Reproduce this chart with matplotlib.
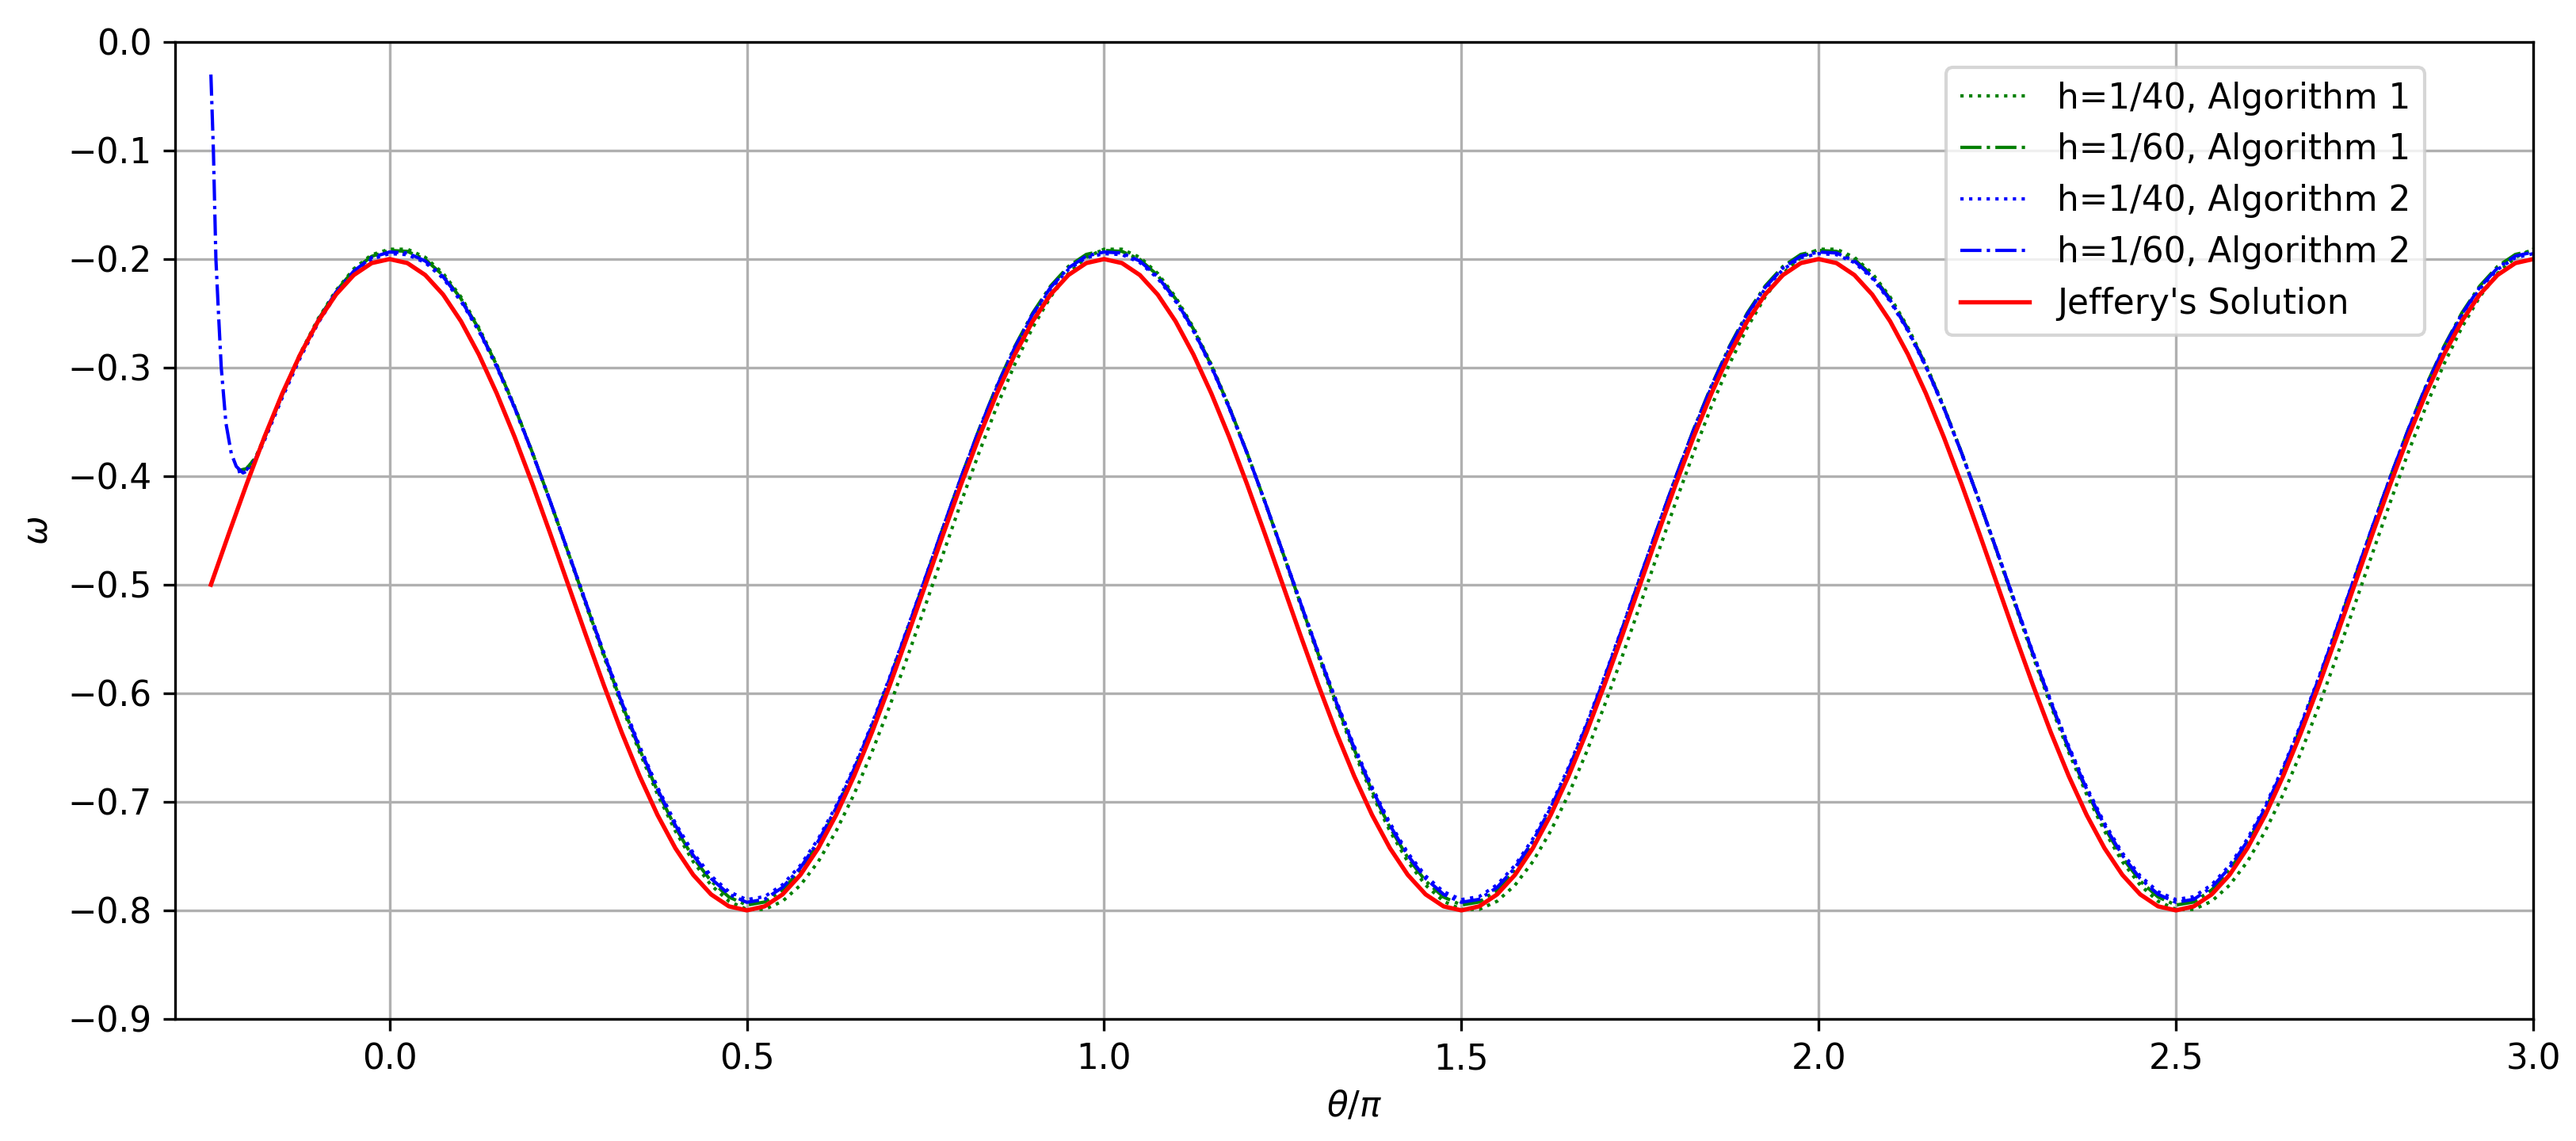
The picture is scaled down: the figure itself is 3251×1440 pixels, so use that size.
import numpy as np
import matplotlib
matplotlib.use("Agg")
import matplotlib.pyplot as plt

plt.rcParams['font.family'] = ['DejaVu Sans']
plt.rcParams['font.size'] = 10.5

# ---------------- data ----------------
x_jeffery = np.round(np.arange(-0.25, 3.0001, 0.025), 4)
w_jeffery = [
    -0.5000, -0.4531, -0.4073, -0.3638, -0.3237, -0.2879, -0.2573, -0.2327, -0.2147, -0.2037,
    -0.2000, -0.2037, -0.2147, -0.2327, -0.2573, -0.2879, -0.3237, -0.3638, -0.4073, -0.4531,
    -0.5000, -0.5469, -0.5927, -0.6362, -0.6763, -0.7121, -0.7427, -0.7673, -0.7853, -0.7963,
    -0.8000, -0.7963, -0.7853, -0.7673, -0.7427, -0.7121, -0.6763, -0.6362, -0.5927, -0.5469,
    -0.5000, -0.4531, -0.4073, -0.3638, -0.3237, -0.2879, -0.2573, -0.2327, -0.2147, -0.2037,
    -0.2000, -0.2037, -0.2147, -0.2327, -0.2573, -0.2879, -0.3237, -0.3638, -0.4073, -0.4531,
    -0.5000, -0.5469, -0.5927, -0.6362, -0.6763, -0.7121, -0.7427, -0.7673, -0.7853, -0.7963,
    -0.8000, -0.7963, -0.7853, -0.7673, -0.7427, -0.7121, -0.6763, -0.6362, -0.5927, -0.5469,
    -0.5000, -0.4531, -0.4073, -0.3638, -0.3237, -0.2879, -0.2573, -0.2327, -0.2147, -0.2037,
    -0.2000, -0.2037, -0.2147, -0.2327, -0.2573, -0.2879, -0.3237, -0.3638, -0.4073, -0.4531,
    -0.5000, -0.5469, -0.5927, -0.6362, -0.6763, -0.7121, -0.7427, -0.7673, -0.7853, -0.7963,
    -0.8000, -0.7963, -0.7853, -0.7673, -0.7427, -0.7121, -0.6763, -0.6362, -0.5927, -0.5469,
    -0.5000, -0.4531, -0.4073, -0.3638, -0.3237, -0.2879, -0.2573, -0.2327, -0.2147, -0.2037,
    -0.2000,
]

# common sampling grid for the numerical solutions
x_num = np.round(np.arange(-0.175, 3.0001, 0.025), 4)

# early points of the numerical solutions
x_start = [-0.2125, -0.2000, -0.1875]
w_start_g1 = [-0.395, -0.393, -0.383]
w_start_g2 = [-0.395, -0.393, -0.383]
w_start_b1 = [-0.396, -0.394, -0.385]
x_start_b2 = [-0.2500, -0.2465, -0.2430, -0.2390, -0.2355, -0.2290, -0.2215, -0.2145,
              -0.2050, -0.1950, -0.1875]
w_start_b2 = [-0.030, -0.100, -0.200, -0.255, -0.300, -0.351, -0.379, -0.391,
              -0.397, -0.394, -0.384]

w_g1 = [  # h=1/40, Algorithm 1
    -0.3640, -0.3240, -0.2870, -0.2550, -0.2290, -0.2090, -0.1960,
    -0.1909, -0.1909, -0.1984, -0.2132, -0.2349, -0.2631, -0.2969, -0.3356, -0.3783, -0.4238,
    -0.4711, -0.5189, -0.5662, -0.6117, -0.6544, -0.6931, -0.7269, -0.7551, -0.7768, -0.7916,
    -0.7991, -0.7991, -0.7916, -0.7768, -0.7551, -0.7269, -0.6931, -0.6544, -0.6117, -0.5662,
    -0.5189, -0.4711, -0.4238, -0.3783, -0.3356, -0.2969, -0.2631, -0.2349, -0.2132, -0.1984,
    -0.1909, -0.1909, -0.1984, -0.2132, -0.2349, -0.2631, -0.2969, -0.3356, -0.3783, -0.4238,
    -0.4711, -0.5189, -0.5662, -0.6117, -0.6544, -0.6931, -0.7269, -0.7551, -0.7768, -0.7916,
    -0.7991, -0.7991, -0.7916, -0.7768, -0.7551, -0.7269, -0.6931, -0.6544, -0.6117, -0.5662,
    -0.5189, -0.4711, -0.4238, -0.3783, -0.3356, -0.2969, -0.2631, -0.2349, -0.2132, -0.1984,
    -0.1909, -0.1909, -0.1984, -0.2132, -0.2349, -0.2631, -0.2969, -0.3356, -0.3783, -0.4238,
    -0.4711, -0.5189, -0.5662, -0.6117, -0.6544, -0.6931, -0.7269, -0.7551, -0.7768, -0.7916,
    -0.7991, -0.7991, -0.7916, -0.7768, -0.7551, -0.7269, -0.6931, -0.6544, -0.6117, -0.5662,
    -0.5189, -0.4711, -0.4238, -0.3783, -0.3356, -0.2969, -0.2631, -0.2349, -0.2132, -0.1984,
    -0.1909,
]

w_g2 = [  # h=1/60, Algorithm 1
    -0.3645, -0.3245, -0.2880, -0.2560, -0.2300, -0.2100, -0.1975,
    -0.1920, -0.1929, -0.2003, -0.2150, -0.2365, -0.2644, -0.2979, -0.3362, -0.3784, -0.4235,
    -0.4703, -0.5177, -0.5645, -0.6096, -0.6518, -0.6901, -0.7236, -0.7515, -0.7730, -0.7877,
    -0.7951, -0.7923, -0.7812, -0.7631, -0.7383, -0.7076, -0.6715, -0.6311, -0.5873, -0.5412,
    -0.4940, -0.4468, -0.4007, -0.3569, -0.3165, -0.2805, -0.2497, -0.2249, -0.2068, -0.1957,
    -0.1920, -0.1929, -0.2003, -0.2150, -0.2365, -0.2644, -0.2979, -0.3362, -0.3784, -0.4235,
    -0.4703, -0.5177, -0.5645, -0.6096, -0.6518, -0.6901, -0.7236, -0.7515, -0.7730, -0.7877,
    -0.7951, -0.7923, -0.7812, -0.7631, -0.7383, -0.7076, -0.6715, -0.6311, -0.5873, -0.5412,
    -0.4940, -0.4468, -0.4007, -0.3569, -0.3165, -0.2805, -0.2497, -0.2249, -0.2068, -0.1957,
    -0.1920, -0.1929, -0.2003, -0.2150, -0.2365, -0.2644, -0.2979, -0.3362, -0.3784, -0.4235,
    -0.4703, -0.5177, -0.5645, -0.6096, -0.6518, -0.6901, -0.7236, -0.7515, -0.7730, -0.7877,
    -0.7951, -0.7923, -0.7812, -0.7631, -0.7383, -0.7076, -0.6715, -0.6311, -0.5873, -0.5412,
    -0.4940, -0.4468, -0.4007, -0.3569, -0.3165, -0.2805, -0.2497, -0.2249, -0.2068, -0.1957,
    -0.1920,
]

w_b1 = [  # h=1/40, Algorithm 2
    -0.3670, -0.3275, -0.2910, -0.2590, -0.2330, -0.2130, -0.2000,
    -0.1950, -0.1959, -0.2032, -0.2177, -0.2389, -0.2664, -0.2995, -0.3373, -0.3790, -0.4234,
    -0.4696, -0.5164, -0.5626, -0.6070, -0.6487, -0.6865, -0.7196, -0.7471, -0.7683, -0.7828,
    -0.7901, -0.7873, -0.7764, -0.7585, -0.7341, -0.7037, -0.6682, -0.6283, -0.5851, -0.5396,
    -0.4930, -0.4464, -0.4009, -0.3577, -0.3178, -0.2823, -0.2519, -0.2275, -0.2096, -0.1987,
    -0.1950, -0.1959, -0.2032, -0.2177, -0.2389, -0.2664, -0.2995, -0.3373, -0.3790, -0.4234,
    -0.4696, -0.5164, -0.5626, -0.6070, -0.6487, -0.6865, -0.7196, -0.7471, -0.7683, -0.7828,
    -0.7901, -0.7873, -0.7764, -0.7585, -0.7341, -0.7037, -0.6682, -0.6283, -0.5851, -0.5396,
    -0.4930, -0.4464, -0.4009, -0.3577, -0.3178, -0.2823, -0.2519, -0.2275, -0.2096, -0.1987,
    -0.1950, -0.1959, -0.2032, -0.2177, -0.2389, -0.2664, -0.2995, -0.3373, -0.3790, -0.4234,
    -0.4696, -0.5164, -0.5626, -0.6070, -0.6487, -0.6865, -0.7196, -0.7471, -0.7683, -0.7828,
    -0.7901, -0.7873, -0.7764, -0.7585, -0.7341, -0.7037, -0.6682, -0.6283, -0.5851, -0.5396,
    -0.4930, -0.4464, -0.4009, -0.3577, -0.3178, -0.2823, -0.2519, -0.2275, -0.2096, -0.1987,
    -0.1950,
]

w_b2 = [  # h=1/60, Algorithm 2
    -0.3650, -0.3250, -0.2885, -0.2565, -0.2305, -0.2110, -0.1985,
    -0.1935, -0.1944, -0.2018, -0.2163, -0.2377, -0.2654, -0.2987, -0.3368, -0.3787, -0.4235,
    -0.4700, -0.5170, -0.5635, -0.6083, -0.6503, -0.6883, -0.7216, -0.7493, -0.7707, -0.7852,
    -0.7926, -0.7898, -0.7788, -0.7608, -0.7362, -0.7056, -0.6698, -0.6297, -0.5862, -0.5404,
    -0.4935, -0.4466, -0.4008, -0.3573, -0.3172, -0.2814, -0.2508, -0.2262, -0.2082, -0.1972,
    -0.1935, -0.1944, -0.2018, -0.2163, -0.2377, -0.2654, -0.2987, -0.3368, -0.3787, -0.4235,
    -0.4700, -0.5170, -0.5635, -0.6083, -0.6503, -0.6883, -0.7216, -0.7493, -0.7707, -0.7852,
    -0.7926, -0.7898, -0.7788, -0.7608, -0.7362, -0.7056, -0.6698, -0.6297, -0.5862, -0.5404,
    -0.4935, -0.4466, -0.4008, -0.3573, -0.3172, -0.2814, -0.2508, -0.2262, -0.2082, -0.1972,
    -0.1935, -0.1944, -0.2018, -0.2163, -0.2377, -0.2654, -0.2987, -0.3368, -0.3787, -0.4235,
    -0.4700, -0.5170, -0.5635, -0.6083, -0.6503, -0.6883, -0.7216, -0.7493, -0.7707, -0.7852,
    -0.7926, -0.7898, -0.7788, -0.7608, -0.7362, -0.7056, -0.6698, -0.6297, -0.5862, -0.5404,
    -0.4935, -0.4466, -0.4008, -0.3573, -0.3172, -0.2814, -0.2508, -0.2262, -0.2082, -0.1972,
    -0.1935,
]

labels = ["h=1/40, Algorithm 1", "h=1/60, Algorithm 1",
          "h=1/40, Algorithm 2", "h=1/60, Algorithm 2", "Jeffery's Solution"]

# ---------------- plot ----------------
fig = plt.figure(figsize=(3251 / 300, 1440 / 300), dpi=300)
ax = fig.add_axes([0.068, 0.107, 0.9154, 0.8562])

ax.plot(np.concatenate([x_start, x_num]), np.concatenate([w_start_g1, w_g1]),
        color='g', linestyle=':', lw=1.0, label=labels[0])
ax.plot(np.concatenate([x_start, x_num]), np.concatenate([w_start_g2, w_g2]),
        color='g', linestyle='-.', lw=1.0, label=labels[1])
ax.plot(np.concatenate([x_start, x_num]), np.concatenate([w_start_b1, w_b1]),
        color='b', linestyle=':', lw=1.0, label=labels[2])
ax.plot(np.concatenate([x_start_b2, x_num]), np.concatenate([w_start_b2, w_b2]),
        color='b', linestyle='-.', lw=1.0, label=labels[3])
ax.plot(x_jeffery, w_jeffery, color='r', linestyle='-', lw=1.3, label=labels[4])

ax.set_xlim(-0.3, 3.0)
ax.set_ylim(-0.9, 0.0)
ax.set_yticks(np.round(np.arange(-0.9, 0.001, 0.1), 1))
ax.set_xticks([0.0, 0.5, 1.0, 1.5, 2.0, 2.5, 3.0])
ax.grid(True)
ax.set_xlabel(r'$\theta/\pi$')
ax.set_ylabel(r'$\omega$')
ax.legend(loc='upper right', bbox_to_anchor=(0.954, 0.974), borderaxespad=0)

fig.savefig('out.png', dpi=300)
